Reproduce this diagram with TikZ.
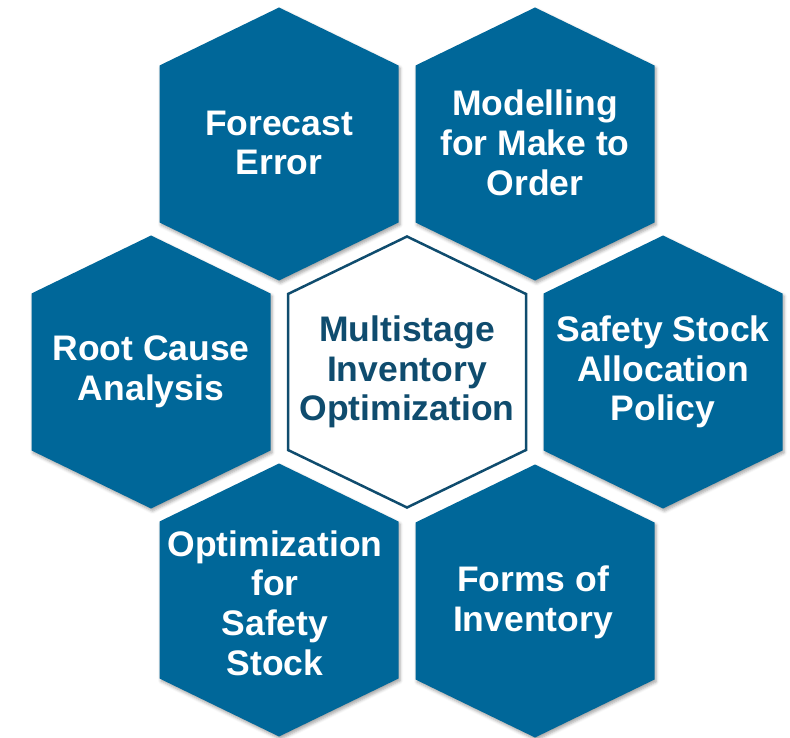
\documentclass[tikz,border=0pt]{standalone}
\usepackage{fontspec}
\setmainfont{Liberation Sans}
\usetikzlibrary{shadows.blur}
\definecolor{hexblue}{RGB}{0,103,153}
\definecolor{hexdark}{RGB}{15,76,110}

\begin{document}
\begin{tikzpicture}[x=1pt,y=-1pt,
        hexfill/.style={fill=hexblue, draw=none,
            blur shadow={shadow xshift=1.5pt, shadow yshift=-2.5pt, shadow blur radius=3pt, shadow opacity=35}},
        hexcore/.style={fill=white, draw=hexdark, line width=2.5pt},
        hexlabel/.style={align=center, text=white, font=\fontsize{35.5}{39.7}\selectfont\bfseries},
        corelabel/.style={hexlabel, text=hexdark}]
        %background
            \useasboundingbox (0,0) rectangle (790,738);
        % hexagons
            \foreach \cx/\cy in {279/144, 535/144, 151/372, 663/372, 279/600, 535/601}
                \path[hexfill, shift={(\cx,\cy)}] (0,-136.5) -- (119.5,-78.5) -- (119.5,78.5) -- (0,136.5) -- (-119.5,78.5) -- (-119.5,-78.5) -- cycle;
            \path[hexcore, shift={(407,372)}] (0,-135.5) -- (119,-78) -- (119,78) -- (0,135.5) -- (-119,78) -- (-119,-78) -- cycle;
        %nodes
            \node[hexlabel] (forecast) at (279,143) {Forecast\\Error};
            \node[hexlabel] (modelling) at (535,143) {Modelling\\for Make to\\Order};
            \node[hexlabel] (rootcause) at (151,372) {Root Cause\\Analysis};
            \node[corelabel] (core) at (407,372) {Multistage\\Inventory\\Optimization};
            \node[hexlabel] (allocation) at (663,372) {Safety Stock\\Allocation\\Policy};
            \node[hexlabel] (safety) at (275,603) {Optimization\\for\\Safety\\Stock};
            \node[hexlabel] (forms) at (533,602) {Forms of\\Inventory};
\end{tikzpicture}
\end{document}
